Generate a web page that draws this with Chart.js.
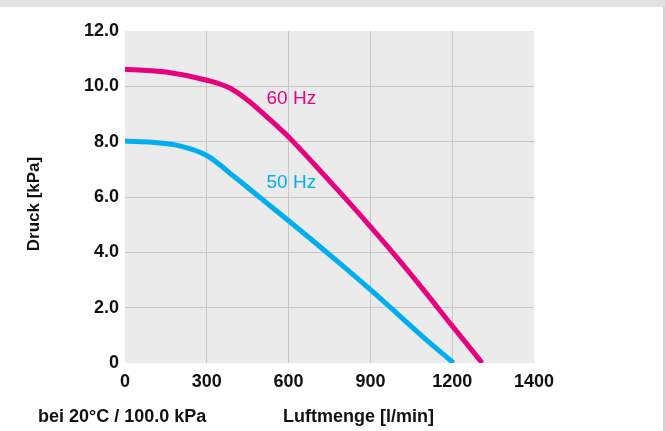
<!DOCTYPE html>
<html>
<head>
<meta charset="utf-8">
<script src="https://cdn.jsdelivr.net/npm/chart.js@4"></script>
<style>
  html, body { margin: 0; padding: 0; background: #fff; }
  #wrap { width: 665px; height: 431px; }
</style>
</head>
<body>
<div id="wrap"><canvas id="pumpChart" width="665" height="431"></canvas></div>
<script>
// Kennlinien (Luftmenge l/min -> Druck kPa)
const flow60 = [0, 150, 300, 384, 450, 520, 600, 700, 800, 900, 1000, 1100, 1200, 1310];
const druck60 = [10.62, 10.52, 10.22, 9.94, 9.5, 8.9, 8.17, 7.12, 6.04, 4.93, 3.78, 2.58, 1.34, 0];
const flow50 = [0, 100, 200, 300, 400, 500, 600, 700, 800, 900, 1000, 1100, 1205];
const druck50 = [8.02, 7.98, 7.85, 7.5, 6.74, 5.94, 5.14, 4.33, 3.5, 2.65, 1.77, 0.88, 0];
const seriesNames = ['60 Hz', '50 Hz'];
const xTickLabels = ['0', '300', '600', '900', '1200', '1400'];
const yTickLabels = ['0', '2.0', '4.0', '6.0', '8.0', '10.0', '12.0'];

const pink = '#e6007e';
const cyan = '#00aeef';
const textFont = 'Liberation Sans, Arial, sans-serif';

function toPoints(xs, ys) {
    return xs.map((x, i) => ({ x: x, y: ys[i] }));
}

const chartDeco = {
    id: 'chartDeco',
    beforeDraw(chart) {
        const ctx = chart.ctx;
        const a = chart.chartArea;
        ctx.save();
        // grauer Rand oben / rechts
        ctx.fillStyle = '#e1e2e4';
        ctx.fillRect(0, 0, chart.width, 7);
        ctx.fillStyle = '#d6d6d8';
        ctx.fillRect(chart.width - 2, 7, 2, chart.height - 7);
        // Hintergrund der Zeichenfläche
        ctx.fillStyle = '#ebebeb';
        ctx.fillRect(a.left, a.top, a.right - a.left, a.bottom - a.top);
        ctx.restore();
    },
    afterDraw(chart, args, opts) {
        const ctx = chart.ctx;
        const xs = chart.scales.x;
        const ys = chart.scales.y;
        ctx.save();
        // Kurvenbeschriftung
        ctx.font = '19px ' + textFont;
        ctx.textBaseline = 'middle';
        ctx.textAlign = 'left';
        opts.curveLabels.forEach((l, i) => {
            ctx.fillStyle = chart.data.datasets[i].borderColor;
            ctx.fillText(chart.data.datasets[i].label, xs.getPixelForValue(l.x), ys.getPixelForValue(l.y));
        });
        // Achsentitel
        ctx.fillStyle = '#111';
        ctx.font = 'bold 18px ' + textFont;
        ctx.textAlign = 'left';
        ctx.fillText('bei 20°C / 100.0 kPa', 38, 417);
        ctx.fillText('Luftmenge [l/min]', 283, 417);
        ctx.translate(34, 204);
        ctx.rotate(-Math.PI / 2);
        ctx.textAlign = 'center';
        ctx.font = 'bold 17px ' + textFont;
        ctx.fillText('Druck [kPa]', 0, 0);
        ctx.restore();
    }
};

const gridColor = (c) => (c.index === 0 || c.index === c.chart.scales[c.scale.id].ticks.length - 1) ? 'rgba(0,0,0,0)' : '#c6c6c6';

new Chart(document.getElementById('pumpChart').getContext('2d'), {
    type: 'line',
    data: {
        datasets: [{
            label: seriesNames[0],
            data: toPoints(flow60, druck60),
            borderColor: pink,
            borderWidth: 5,
            pointRadius: 0,
            cubicInterpolationMode: 'monotone',
            fill: false
        }, {
            label: seriesNames[1],
            data: toPoints(flow50, druck50),
            borderColor: cyan,
            borderWidth: 5,
            pointRadius: 0,
            cubicInterpolationMode: 'monotone',
            fill: false
        }]
    },
    options: {
        responsive: false,
        animation: false,
        layout: { padding: { top: 31, right: 131, left: 0, bottom: 0 } },
        plugins: {
            legend: { display: false },
            tooltip: { enabled: false },
            chartDeco: { curveLabels: [{ x: 519, y: 9.55 }, { x: 519, y: 6.5 }] }
        },
        scales: {
            x: {
                type: 'linear',
                min: 0,
                max: 1500,
                afterFit: (s) => { s.height = 68; },
                border: { display: false },
                grid: { color: gridColor, drawTicks: false, lineWidth: 1 },
                ticks: {
                    stepSize: 300,
                    padding: 8,
                    color: '#111',
                    font: { family: textFont, size: 18, weight: 'bold' },
                    callback: (v, i) => xTickLabels[i]
                }
            },
            y: {
                min: 0,
                max: 12,
                afterFit: (s) => { s.width = 125; },
                border: { display: false },
                grid: { color: gridColor, drawTicks: false, lineWidth: 1 },
                ticks: {
                    stepSize: 2,
                    padding: 6,
                    color: '#111',
                    font: { family: textFont, size: 18, weight: 'bold' },
                    callback: (v, i) => yTickLabels[i]
                }
            }
        }
    },
    plugins: [chartDeco]
});
</script>
</body>
</html>
